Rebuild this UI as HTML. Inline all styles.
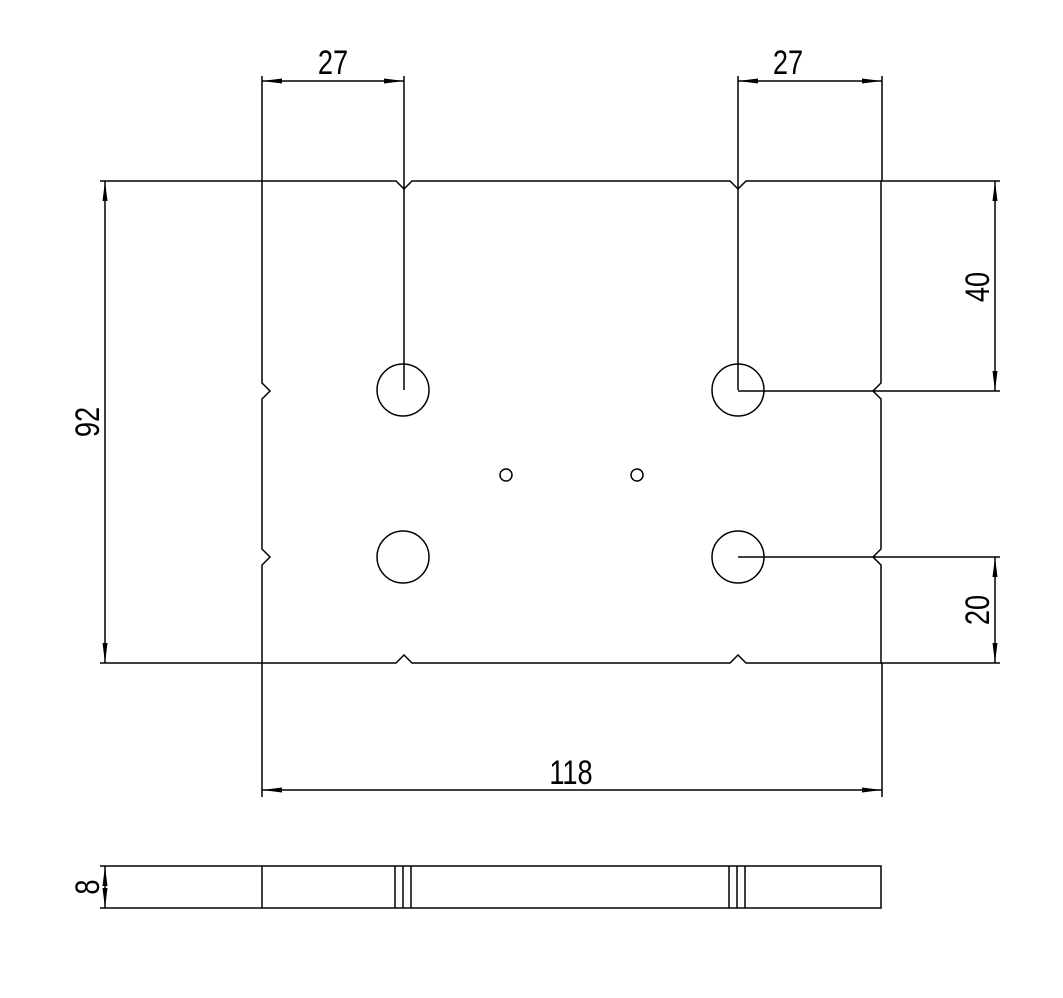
<!DOCTYPE html>
<html><head><style>body{margin:0;background:#fff}svg{display:block}text{font-family:"Liberation Sans",sans-serif;font-size:34px;fill:#000}</style></head><body>
<svg width="1063" height="998" viewBox="0 0 1063 998" xmlns="http://www.w3.org/2000/svg">
<defs><marker id="a" viewBox="0 0 20 8" refX="20" refY="4" markerWidth="20" markerHeight="8" markerUnits="userSpaceOnUse" orient="auto-start-reverse"><path d="M0,1.5 L20,4 L0,6.5Z" fill="#000"/></marker></defs>
<g fill="none" stroke="#000" stroke-width="1.5">
<path d="M262,181 H396 L404,189 L412,181 H730 L738,189 L746,181 H881 V383 L873,391 L881,399 V549 L873,557 L881,565 V663 H746 L738,655 L730,663 H412 L404,655 L396,663 H262 V565 L270,557 L262,549 V399 L270,391 L262,383 Z"/>
<circle cx="403" cy="390" r="26"/><circle cx="738" cy="390" r="26"/>
<circle cx="403" cy="557" r="26"/><circle cx="738" cy="557" r="26"/>
<circle cx="506" cy="475" r="6"/><circle cx="637" cy="475" r="6"/>
<path d="M262,76 V181 M404,76 V390 M738,76 V390 M882,76 V181 M100,181 H262 M100,663 H262 M881,181 H1000 M738,391 H1000 M738,557 H1000 M881,663 H1000 M262,663 V797 M882,663 V797"/>
<line x1="262" y1="81" x2="404" y2="81" marker-start="url(#a)" marker-end="url(#a)"/>
<line x1="738" y1="81" x2="882" y2="81" marker-start="url(#a)" marker-end="url(#a)"/>
<line x1="105" y1="181" x2="105" y2="663" marker-start="url(#a)" marker-end="url(#a)"/>
<line x1="995" y1="181" x2="995" y2="391" marker-start="url(#a)" marker-end="url(#a)"/>
<line x1="995" y1="557" x2="995" y2="663" marker-start="url(#a)" marker-end="url(#a)"/>
<line x1="262" y1="790" x2="882" y2="790" marker-start="url(#a)" marker-end="url(#a)"/>
<path d="M100,866 H881 V908 H100 M262,866 V908 M395,866 V908 M403,866 V908 M411,866 V908 M729,866 V908 M737,866 V908 M745,866 V908"/>
<line x1="105" y1="866" x2="105" y2="908" marker-start="url(#a)" marker-end="url(#a)"/>
</g>
<text x="333" y="74" text-anchor="middle" transform="translate(333 0) scale(0.8 1) translate(-333 0)">27</text>
<text x="788" y="74" text-anchor="middle" transform="translate(788 0) scale(0.8 1) translate(-788 0)">27</text>
<text x="571" y="784" text-anchor="middle" transform="translate(571 0) scale(0.8 1) translate(-571 0)">118</text>
<text transform="translate(99 422) rotate(-90) scale(0.8 1)" text-anchor="middle">92</text>
<text transform="translate(989 287) rotate(-90) scale(0.8 1)" text-anchor="middle">40</text>
<text transform="translate(989 610) rotate(-90) scale(0.8 1)" text-anchor="middle">20</text>
<text transform="translate(99 887) rotate(-90) scale(0.8 1)" text-anchor="middle">8</text>
</svg>
</body></html>
